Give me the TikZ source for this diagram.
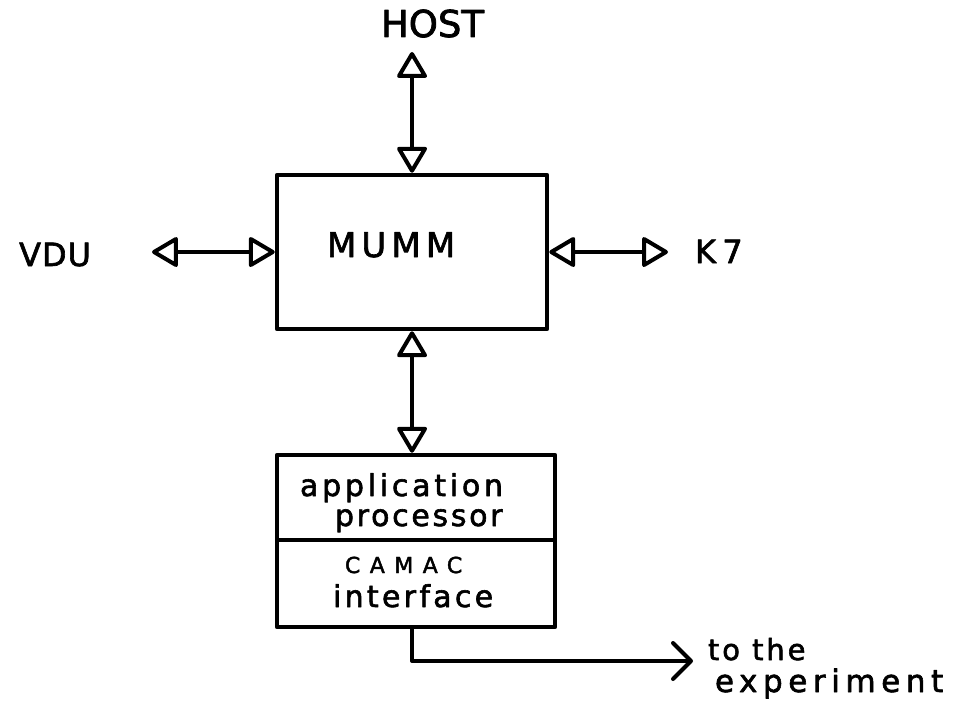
\documentclass[tikz,border=0pt]{standalone}
\usepackage{fontspec}
\setmainfont{DejaVu Sans}
\usetikzlibrary{arrows.meta}
\newcommand{\lsp}[3]{{\fontsize{#1}{#1}\selectfont\addfontfeatures{LetterSpace=#2,FakeBold=2}#3}}
\begin{document}
\begin{tikzpicture}[x=1pt,y=-1pt,line join=round,line cap=round,
  box/.style={draw,line width=4.5pt,inner sep=0pt},
  lbl/.style={inner sep=0pt,outer sep=0pt},
  biarrow/.style={line width=4pt,{Triangle[open,round,length=28pt,width=32pt]}-{Triangle[open,round,length=28pt,width=32pt]}},
  outarrow/.style={line width=4pt,-{Straight Barb[round,length=18pt,width=36pt]}}]
\useasboundingbox (0,0) rectangle (960,709);
% boxes
\node[box,minimum width=270pt,minimum height=154pt] (mumm) at (412,252) {};
\node[box,minimum width=278pt,minimum height=85pt] (proc) at (416,497.5) {};
\node[box,minimum width=278pt,minimum height=87pt] (cam) at (416,583.5) {};
% texts
\node[lbl,anchor=base west] (mummtxt) at (327,257) {\lsp{34}{15}{MUMM}};
\node[lbl,anchor=base west] (host) at (381,37) {\lsp{37}{0}{HOST}};
\node[lbl,anchor=base east] (vdu) at (91,266) {\lsp{32}{3}{VDU}};
\node[lbl,anchor=base west] (k7) at (695,263) {\lsp{32}{20}{K7}};
\node[lbl,anchor=base west] (t1) at (300,496) {\lsp{30}{12.5}{application}};
\node[lbl,anchor=base west] (t2) at (335,526) {\lsp{30}{9}{processor}};
\node[lbl,anchor=base west] (t3) at (345,573) {\lsp{22}{43}{CAMAC}};
\node[lbl,anchor=base west] (t4) at (333,607) {\lsp{30}{11}{interface}};
\node[lbl,anchor=base west] (t5) at (708,660) {\lsp{29}{10}{to the}};
\node[lbl,anchor=base west] (t6) at (715,692) {\lsp{31}{18}{experiment}};
% connector ends
\coordinate (hosttip) at (412,52);
\coordinate (vdutip) at (152,252);
\coordinate (k7tip) at (668,252);
\coordinate (expt) at (693,661);
% connectors
\draw[biarrow] (hosttip) -- (mumm.north);
\draw[biarrow] (vdutip) -- (mumm.west);
\draw[biarrow] (mumm.east) -- (k7tip);
\draw[biarrow] (mumm.south) -- (mumm.south |- proc.north);
\draw[outarrow] (cam.south -| mumm.south) |- (expt);
\end{tikzpicture}
\end{document}
